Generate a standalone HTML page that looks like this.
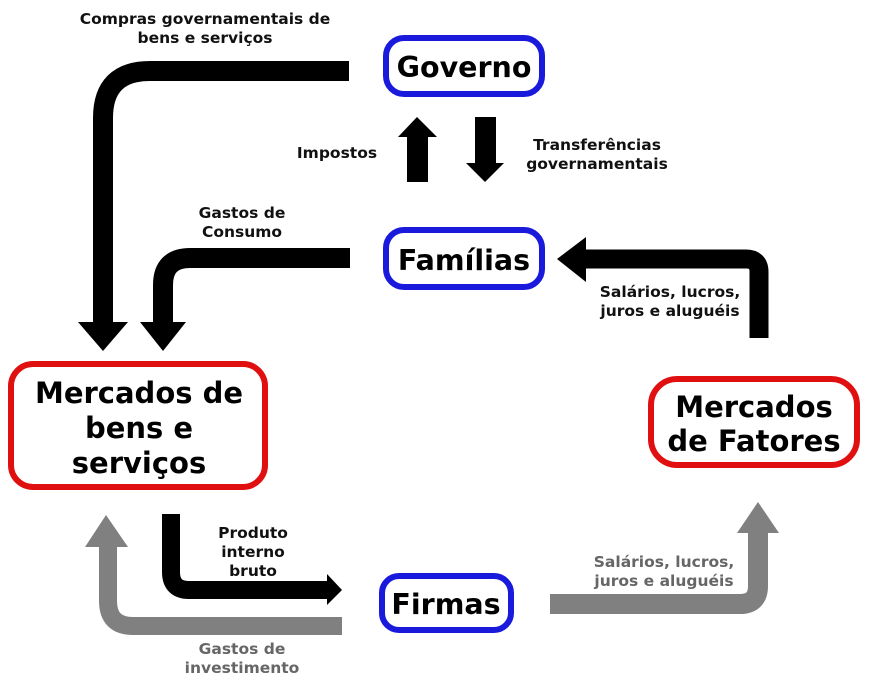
<!DOCTYPE html>
<html><head><meta charset="utf-8"><style>
html,body{margin:0;padding:0;background:#fff;}
svg{display:block;}
text{font-family:"DejaVu Sans","Liberation Sans",sans-serif;font-weight:bold;}
</style></head><body>
<svg width="873" height="683" viewBox="0 0 873 683" xmlns="http://www.w3.org/2000/svg">
<path d="M349 71 H150 Q103 71 103 118 V322" fill="none" stroke="#000" stroke-width="20"/>
<polygon points="78,322 128,322 103,351" fill="#000"/>
<path d="M350 258 H190 Q163 258 163 285 V322" fill="none" stroke="#000" stroke-width="20"/>
<polygon points="140,322 186,322 163,351" fill="#000"/>
<rect x="407" y="136" width="21" height="46" fill="#000"/>
<polygon points="398,137 437,137 417,117" fill="#000"/>
<rect x="475" y="117" width="21" height="47" fill="#000"/>
<polygon points="466,163 504,163 485,182" fill="#000"/>
<path d="M759 338 V272 Q759 259 746 259 H585" fill="none" stroke="#000" stroke-width="19"/>
<polygon points="586,237 586,282 557,259" fill="#000"/>
<path d="M171 514 V572 Q171 590 189 590 H328" fill="none" stroke="#000" stroke-width="18"/>
<polygon points="327,574 327,605 342,590" fill="#000"/>
<path d="M342 626 H133 Q108 626 108 601 V545" fill="none" stroke="#808080" stroke-width="18"/>
<polygon points="85,547 128,547 106,515" fill="#808080"/>
<path d="M550 604 H740 Q758 604 758 586 V530" fill="none" stroke="#808080" stroke-width="20"/>
<polygon points="737,533 779,533 758,502" fill="#808080"/>
<rect x="386" y="38" width="156" height="56" rx="18" fill="#fff" stroke="#1a1adc" stroke-width="6"/>
<rect x="386" y="230" width="156" height="57" rx="18" fill="#fff" stroke="#1a1adc" stroke-width="6"/>
<rect x="382" y="576" width="129" height="54" rx="17" fill="#fff" stroke="#1a1adc" stroke-width="6"/>
<rect x="11" y="364" width="254" height="123" rx="22" fill="#fff" stroke="#e01010" stroke-width="6"/>
<rect x="651" y="379" width="206" height="86" rx="26" fill="#fff" stroke="#e01010" stroke-width="6"/>
<text x="464" y="77" font-size="28.5" text-anchor="middle">Governo</text>
<text x="464" y="270" font-size="28.5" text-anchor="middle">Famílias</text>
<text x="446" y="614" font-size="28.5" text-anchor="middle">Firmas</text>
<text x="139" y="403" font-size="29" text-anchor="middle">Mercados de</text>
<text x="139" y="438" font-size="29" text-anchor="middle">bens e</text>
<text x="139" y="473" font-size="29" text-anchor="middle">serviços</text>
<text x="754" y="417" font-size="29" text-anchor="middle">Mercados</text>
<text x="754" y="451" font-size="29" text-anchor="middle">de Fatores</text>
<g font-size="15.5" fill="#111">
<text x="205" y="24" text-anchor="middle">Compras governamentais de</text>
<text x="205" y="43" text-anchor="middle">bens e serviços</text>
<text x="337" y="158" text-anchor="middle">Impostos</text>
<text x="597" y="150" text-anchor="middle">Transferências</text>
<text x="597" y="169" text-anchor="middle">governamentais</text>
<text x="242" y="218" text-anchor="middle">Gastos de</text>
<text x="242" y="237" text-anchor="middle">Consumo</text>
<text x="670" y="297" text-anchor="middle">Salários, lucros,</text>
<text x="670" y="316" text-anchor="middle">juros e aluguéis</text>
<text x="253" y="538" text-anchor="middle">Produto</text>
<text x="253" y="557" text-anchor="middle">interno</text>
<text x="253" y="576" text-anchor="middle">bruto</text>
</g>
<g font-size="15.5" fill="#666">
<text x="242" y="654" text-anchor="middle">Gastos de</text>
<text x="242" y="673" text-anchor="middle">investimento</text>
<text x="664" y="567" text-anchor="middle">Salários, lucros,</text>
<text x="664" y="586" text-anchor="middle">juros e aluguéis</text>
</g>
</svg>
</body></html>
